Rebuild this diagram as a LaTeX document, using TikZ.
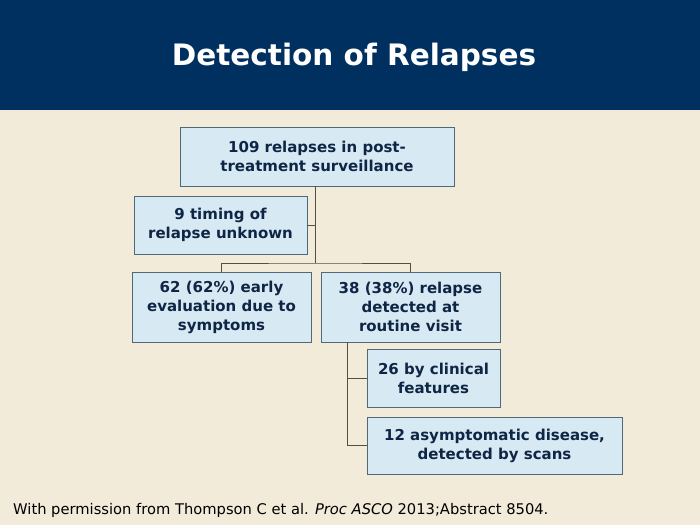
\documentclass[tikz,border=0pt]{standalone}
\usepackage{fontspec}
\setmainfont{DejaVu Sans}
\usepackage{tikz}
\definecolor{navy}{RGB}{0,48,96}
\definecolor{paper}{RGB}{242,235,218}
\definecolor{boxfill}{RGB}{215,233,242}
\definecolor{boxline}{RGB}{80,105,120}
\definecolor{boxtext}{RGB}{15,37,69}
\definecolor{wire}{RGB}{85,78,65}
\tikzset{
    every node/.style={inner sep=0pt, align=center, font=\fontsize{15}{19}\selectfont\bfseries, text=boxtext}
}
\tikzset{
    box/.style={draw=boxline, fill=boxfill, line width=0.8pt}
}
\tikzset{
    wire/.style={draw=wire, line width=0.9pt}
}

\begin{document}
\begin{tikzpicture}[x=1pt,y=-1pt]
	\fill[paper] (0,0) rectangle (700,525);
	\fill[navy] (0,0) rectangle (700,110);
	\useasboundingbox (0,0) rectangle (700,525);
	\node (title) [text=white, font=\fontsize{29.5}{34}\selectfont\bfseries] at (354,57) {Detection of Relapses};
	
	\node (1) [box, minimum width=274pt, minimum height=59pt] at (317,156.5) {109 relapses in post-\\treatment surveillance};
	\node (2) [box, minimum width=173pt, minimum height=58pt] at (220.5,225) {9 timing of\\relapse unknown};
	\node (3) [box, minimum width=179pt, minimum height=70pt] at (221.5,307) {62 (62\%) early\\evaluation due to\\symptoms};
	\node (4) [box, minimum width=179pt, minimum height=70pt] at (410.5,307) {38 (38\%) relapse\\detected at\\routine visit};
	\node (5) [box, minimum width=133pt, minimum height=58pt] at (433.5,378) {26 by clinical\\features};
	\node (6) [box, minimum width=255pt, minimum height=57pt] at (494.5,445.5) {12 asymptomatic disease,\\detected by scans};
	
	\coordinate (j) at (315,263);
	\coordinate (k) at (347,342);
	\draw[wire] (1.south -| j) -- (j); \draw[wire] (2.east) -- (2.east -| j);
	\draw[wire] (3.north) |- (j) -| (4.north);
	\draw[wire] (k) |- (6.west); \draw[wire] (5.west) -- (5.west -| k);
	
	\node (note) [anchor=west, text=black, font=\fontsize{14.7}{17}\selectfont] at (13,510) {With permission from Thompson C et al. \textit{Proc ASCO} 2013;Abstract 8504.};
\end{tikzpicture}
\end{document}
